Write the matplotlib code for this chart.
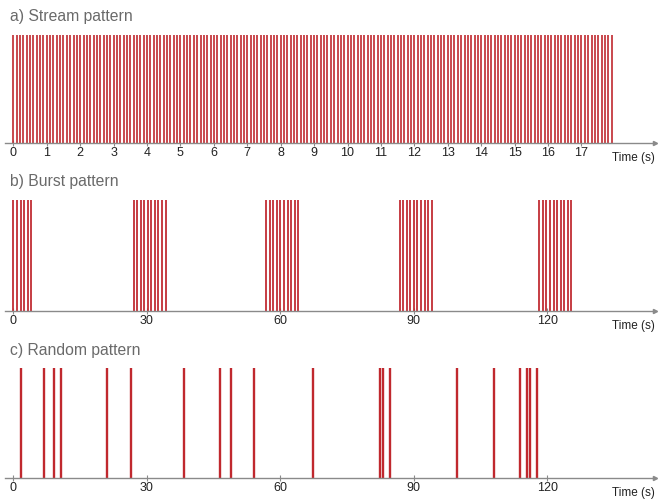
import numpy as np
import matplotlib
matplotlib.use("Agg")
import matplotlib.pyplot as plt

plt.rcParams['font.family'] = ['Liberation Sans', 'DejaVu Sans']

# a) stream: one pulse every 0.1 s up to ~17.9 s
STREAM_INTERVAL = 0.1
STREAM_END = 17.9
STREAM_TICKS = list(range(0, 18))

# b) bursts: onset time and pulse count, pulses 0.8 s apart
BURST_STARTS = [0.0, 27.0, 56.8, 86.8, 118.2]
BURST_COUNTS = [6, 10, 10, 10, 10]
BURST_INTERVAL = 0.8
BURST_TICKS = [0, 30, 60, 90, 120]

# c) random pulse times (s)
RANDOM_TIMES = [1.7, 6.9, 9.2, 10.7, 21.1, 26.4, 38.3, 46.5, 48.8, 54.0, 67.4,
                82.4, 83.1, 84.7, 99.6, 107.9, 113.9, 115.4, 116.1, 117.6]
RANDOM_TICKS = [0, 30, 60, 90, 120]

RED = '#c0282e'
GRAY = '#8a8a8a'
TITLE_GRAY = '#6a6a6a'

W, H = 658, 499


def pulses(ax, times, lw, alpha=1.0):
    ax.vlines(times, 0, 1, colors=RED, linewidth=lw, alpha=alpha)


def style_axis(ax, xlim, ticks, title, axis_y, top_y):
    ax.set_xlim(*xlim)
    ax.set_ylim(0, 1)
    for s in ['top', 'right', 'left']:
        ax.spines[s].set_visible(False)
    ax.spines['bottom'].set_color(GRAY)
    ax.spines['bottom'].set_linewidth(1.0)
    ax.set_yticks([])
    ax.set_xticks(ticks)
    ax.set_xticklabels([str(t) for t in ticks])
    ax.tick_params(axis='x', direction='inout', length=4, width=0.8,
                   colors=GRAY, labelcolor='#222222', labelsize=9, pad=1)
    # little arrow at the end of the time axis
    ax.plot([1.0], [0], marker='>', markersize=3, color=GRAY,
            transform=ax.transAxes, clip_on=False)
    ax.text(1.0, -0.08, "Time (s)", transform=ax.transAxes, ha='right',
            va='top', fontsize=8.5, color='#222222')
    fig.text(10 / W, 1 - (top_y - 18) / H, title, fontsize=11.3,
             color=TITLE_GRAY, ha='left', va='center')


fig = plt.figure(figsize=(W / 100, H / 100), dpi=100)

panels = [(143, 35), (311, 200), (478, 368)]
axes = []
for axis_y, top_y in panels:
    ax = fig.add_axes([5 / W, 1 - axis_y / H, 650 / W, (axis_y - top_y) / H])
    axes.append(ax)

# a) stream
stream = np.arange(0, STREAM_END + 1e-9, STREAM_INTERVAL)
pulses(axes[0], stream, 1.4, alpha=0.85)
style_axis(axes[0], (-0.25, 19.2), STREAM_TICKS, "a) Stream pattern", *panels[0])

# b) bursts
burst_times = []
for start, n in zip(BURST_STARTS, BURST_COUNTS):
    burst_times.extend(start + BURST_INTERVAL * np.arange(n))
pulses(axes[1], burst_times, 1.4, alpha=0.9)
style_axis(axes[1], (-1.9, 144.2), BURST_TICKS, "b) Burst pattern", *panels[1])

# c) random
pulses(axes[2], RANDOM_TIMES, 1.7)
style_axis(axes[2], (-1.9, 144.2), RANDOM_TICKS, "c) Random pattern", *panels[2])

fig.savefig("out.png", dpi=100, facecolor='white')
